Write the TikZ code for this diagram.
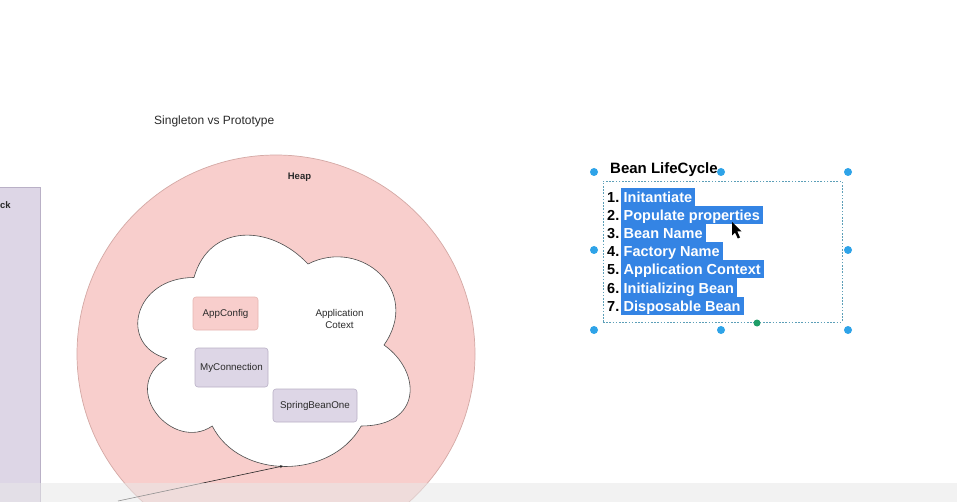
\documentclass[tikz,border=0pt]{standalone}
\usepackage{fontspec}
\setmainfont{Liberation Sans}
\usetikzlibrary{arrows.meta}
\definecolor{heapfill}{HTML}{F8CECC}
\definecolor{heapline}{HTML}{D4A9A5}
\definecolor{lavfill}{HTML}{DDD6E6}
\definecolor{lavline}{HTML}{B9B0C6}
\definecolor{pinkline}{HTML}{E6B6B2}
\definecolor{txt}{HTML}{2A2A2A}
\definecolor{selblue}{HTML}{3484E4}
\definecolor{handleblue}{HTML}{2EA3E8}
\definecolor{selline}{HTML}{5C9FB8}
\definecolor{greendot}{HTML}{1F9E68}
\tikzset{
  f10/.style={font=\fontsize{9.8pt}{12pt}\selectfont},
  bean/.style={draw, rounded corners=3pt, line width=.6pt, f10, text=txt, inner sep=0pt},
  hl/.style={anchor=west, fill=selblue, text=white, font=\bfseries\fontsize{14.5pt}{17pt}\selectfont,
     inner xsep=3pt, inner ysep=0pt, minimum height=18pt, text height=12.5pt, text depth=1.5pt},
  num/.style={anchor=east, text=black, font=\bfseries\fontsize{14.5pt}{17pt}\selectfont,
     inner sep=0pt, minimum height=18pt, text height=12.5pt, text depth=1.5pt},
  handle/.style={circle, fill=handleblue, minimum size=8pt, inner sep=0pt},
}
\begin{document}
\begin{tikzpicture}[x=1pt,y=-1pt]
\useasboundingbox (0,0) rectangle (957,502);
\clip (0,0) rectangle (957,502);
\fill[white] (0,0) rectangle (957,502);

% stack column (cut at the left edge)
\node[rectangle, fill=lavfill, draw=lavline, line width=.8pt, minimum width=50.5pt, minimum height=333pt, inner sep=0pt] (stack) at (15.25,353.5) {};
\node[font=\bfseries\fontsize{9.5pt}{11pt}\selectfont, text=txt, anchor=west, inner sep=0pt] (stacklbl) at (0,205) {ck};

% heap
\node[circle, fill=heapfill, draw=heapline, line width=.7pt, minimum size=398pt, inner sep=0pt] (heap) at (276,354) {};
\node[font=\bfseries\fontsize{9.5pt}{11pt}\selectfont, text=txt] (heaplbl) at (299.5,177) {Heap};

% application context cloud (draw.io cloud shape)
\draw[fill=white, draw=black!70, line width=.6pt]
  (194,277.5) .. controls (133.2,277.5) and (118,345) .. (166.64,358.5)
  .. controls (118,388.2) and (172.72,453) .. (212.24,426)
  .. controls (239.6,480) and (330.8,480) .. (361.2,426)
  .. controls (422,426) and (422,372) .. (384,345)
  .. controls (422,291) and (361.2,237) .. (308,264)
  .. controls (270,223.5) and (209.2,223.5) .. (194,277.5) -- cycle;
\coordinate (cloudbot) at (283,466);
\node[f10, text=txt, align=center, inner sep=0pt] (ctx) at (339.5,319) {Application\\Cotext};

\node[bean, fill=heapfill, draw=pinkline, minimum width=65pt, minimum height=33pt] (appcfg) at (225.5,313.5) {AppConfig};
\node[bean, fill=lavfill, draw=lavline, minimum width=73pt, minimum height=39pt] (myconn) at (231.5,367.5) {MyConnection};
\node[bean, fill=lavfill, draw=lavline, minimum width=84pt, minimum height=33pt] (sbo) at (315,405.5) {SpringBeanOne};

% connector coming from below-left
\coordinate (lineend) at (118,501);
\draw[black!85, line width=.6pt, -{Stealth[length=3pt,width=3pt]}] (lineend) -- (cloudbot);

% title
\node[anchor=west, text=txt, font=\fontsize{12pt}{14pt}\selectfont, inner sep=0pt] (title) at (154,121) {Singleton vs Prototype};

% Bean LifeCycle
\node[anchor=west, text=black, font=\bfseries\fontsize{15pt}{18pt}\selectfont, inner sep=0pt] (blc) at (610,169.5) {Bean LifeCycle};
\node[rectangle, draw=selline, line width=.9pt, dash pattern=on 1.6pt off 1.6pt, minimum width=239pt, minimum height=141pt, inner sep=0pt] (sel) at (722.5,251.5) {};

\foreach \i/\t [count=\k from 0] in {1/Initantiate, 2/Populate properties, 3/Bean Name, 4/Factory Name, 5/Application Context, 6/Initializing Bean, 7/Disposable Bean}{
  \node[num] (n\i) at (619.5,197.5+18*\k) {\i.};
  \node[hl] (item\i) at (620.5,197.5+18*\k) {\t};
}

% selection handles
\node[handle] (h1) at (594,172) {};
\node[handle] (h2) at (721,172) {};
\node[handle] (h3) at (848,172) {};
\node[handle] (h4) at (594,250) {};
\node[handle] (h5) at (848,250) {};
\node[handle] (h6) at (594,330) {};
\node[handle] (h7) at (721,330) {};
\node[handle] (h8) at (848,330) {};
\node[circle, fill=greendot, minimum size=7pt, inner sep=0pt] (rot) at (757,323) {};

% mouse pointer
\fill[black] (732,222) -- (732,235.5) -- (735,232.5) -- (737.8,238.5) -- (740,237.5) -- (737.3,231.5) -- (741.5,231.5) -- cycle;

% bottom video bar
\fill[black!9, opacity=0.55] (0,483) rectangle (957,502);
\end{tikzpicture}
\end{document}
